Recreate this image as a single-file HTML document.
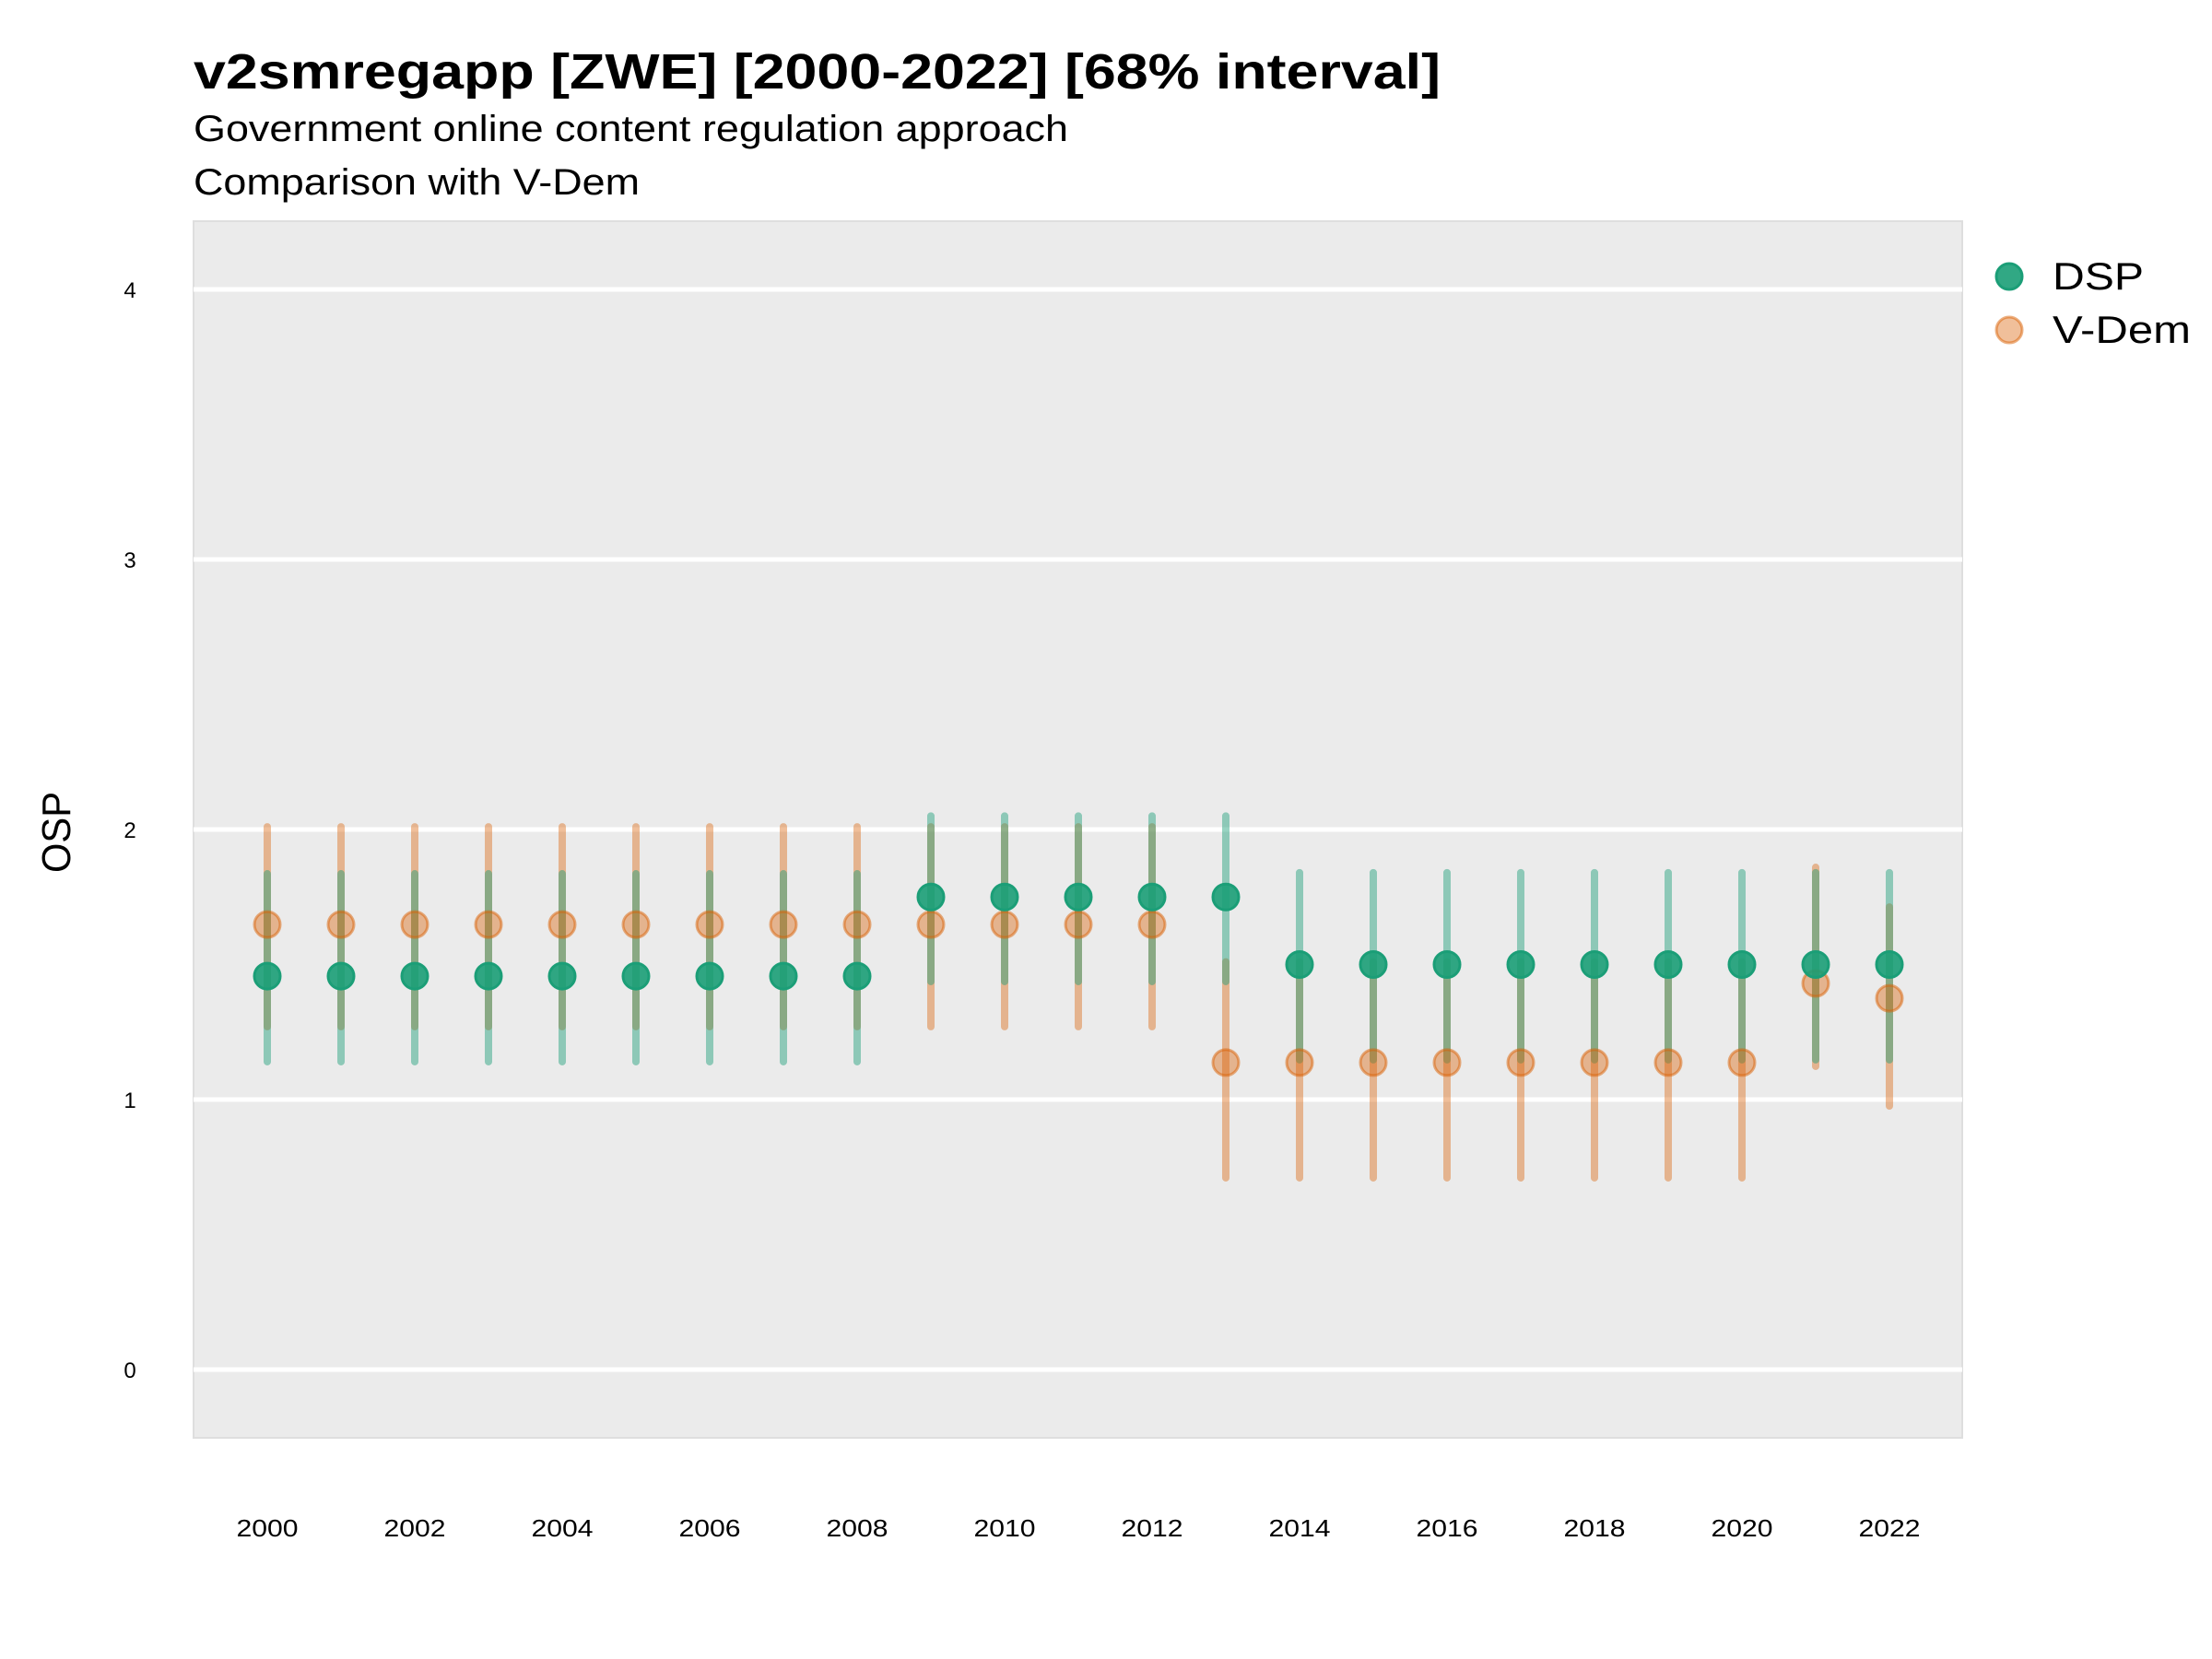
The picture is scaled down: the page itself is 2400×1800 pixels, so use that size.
<!DOCTYPE html>
<html><head><meta charset="utf-8"><style>
html,body{margin:0;padding:0;background:#fff}
svg{display:block}
text{font-family:"Liberation Sans",sans-serif}
</style></head><body>
<svg width="2400" height="1800" viewBox="0 0 2400 1800" xmlns="http://www.w3.org/2000/svg">
<rect width="2400" height="1800" fill="#fff"/>
<text x="210" y="96" font-size="54" font-weight="bold" fill="#000" textLength="1353" lengthAdjust="spacingAndGlyphs">v2smregapp [ZWE] [2000-2022] [68% interval]</text>
<text x="210" y="153" font-size="40" fill="#000" textLength="949" lengthAdjust="spacingAndGlyphs">Government online content regulation approach</text>
<text x="210" y="211" font-size="40" fill="#000" textLength="484" lengthAdjust="spacingAndGlyphs">Comparison with V-Dem</text>
<rect x="210" y="240" width="1919" height="1320" fill="#ebebeb" stroke="#dedede" stroke-width="2"/>
<g stroke="#fff" stroke-width="5">
<line x1="210" x2="2129" y1="314" y2="314"/>
<line x1="210" x2="2129" y1="607" y2="607"/>
<line x1="210" x2="2129" y1="900" y2="900"/>
<line x1="210" x2="2129" y1="1193" y2="1193"/>
<line x1="210" x2="2129" y1="1486" y2="1486"/>
</g>
<g font-size="24" fill="#000" text-anchor="middle">
<text x="141" y="323">4</text><text x="141" y="616">3</text><text x="141" y="909">2</text><text x="141" y="1202">1</text><text x="141" y="1495">0</text>
</g>
<text transform="translate(76,903) rotate(-90)" font-size="44" text-anchor="middle" fill="#000" textLength="88" lengthAdjust="spacingAndGlyphs">OSP</text>
<g font-size="26" fill="#000" text-anchor="middle" id="xl"></g>
<g id="vbars"></g>
<g id="dbars"></g>
<g id="pts"></g>
<circle cx="2180" cy="300" r="14" fill="#1b9e77" fill-opacity="0.9" stroke="#1b9e77" stroke-width="3"/>
<circle cx="2180" cy="358" r="14" fill="#d95f02" fill-opacity="0.4" stroke="#d95f02" stroke-opacity="0.5" stroke-width="3"/>
<text x="2227" y="314" font-size="42" fill="#000" textLength="99" lengthAdjust="spacingAndGlyphs">DSP</text>
<text x="2227" y="372" font-size="42" fill="#000" textLength="150" lengthAdjust="spacingAndGlyphs">V-Dem</text>
<script>
var ns="http://www.w3.org/2000/svg";
function Y(v){return 1486-v*293;}
function X(i){return 290+i*80;}
var dsp=[],vd=[];
for(var i=0;i<=22;i++){
 var d,v;
 if(i<=8){d=[1.457,1.14,1.836];v=[1.648,1.27,2.01];}
 else if(i<=12){d=[1.75,1.437,2.05];v=[1.648,1.27,2.01];}
 else if(i==13){d=[1.75,1.437,2.05];v=[1.137,0.71,1.51];}
 else if(i<=20){d=[1.5,1.147,1.84];v=[1.137,0.71,1.51];}
 else if(i==21){d=[1.5,1.147,1.84];v=[1.43,1.123,1.86];}
 else {d=[1.5,1.147,1.84];v=[1.375,0.976,1.713];}
 dsp.push(d);vd.push(v);
}
var vb=document.getElementById('vbars'),db=document.getElementById('dbars'),pts=document.getElementById('pts'),xl=document.getElementById('xl');
function el(n,a,p){var e=document.createElementNS(ns,n);for(var k in a)e.setAttribute(k,a[k]);p.appendChild(e);return e;}
for(var i=0;i<=22;i++){
 el('line',{x1:X(i),x2:X(i),y1:Y(vd[i][1]),y2:Y(vd[i][2]),stroke:'#d95f02','stroke-opacity':0.4,'stroke-width':8,'stroke-linecap':'round'},vb);
 el('line',{x1:X(i),x2:X(i),y1:Y(dsp[i][1]),y2:Y(dsp[i][2]),stroke:'#1b9e77','stroke-opacity':0.45,'stroke-width':8,'stroke-linecap':'round'},db);
 el('circle',{cx:X(i),cy:Y(vd[i][0]),r:14,fill:'#d95f02','fill-opacity':0.4,stroke:'#d95f02','stroke-opacity':0.5,'stroke-width':3},pts);
 el('circle',{cx:X(i),cy:Y(dsp[i][0]),r:14,fill:'#1b9e77','fill-opacity':0.9,stroke:'#1b9e77','stroke-width':3},pts);
 if(i%2==0){var t=el('text',{x:X(i),y:1667,textLength:67,lengthAdjust:'spacingAndGlyphs'},xl);t.textContent=2000+i;}
}
</script>
</svg>
</body></html>
